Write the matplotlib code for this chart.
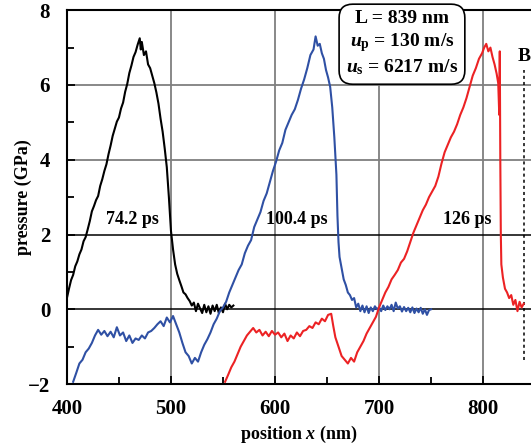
import matplotlib
matplotlib.use('Agg')
import matplotlib.pyplot as plt

plt.rcParams['font.family'] = ['Liberation Serif', 'DejaVu Serif']
plt.rcParams['font.weight'] = 'bold'
plt.rcParams['mathtext.fontset'] = 'custom'
plt.rcParams['mathtext.rm'] = 'Liberation Serif:bold'
plt.rcParams['mathtext.it'] = 'Liberation Serif:bold:italic'
plt.rcParams['mathtext.bf'] = 'Liberation Serif:bold'

# 74.2 ps profile
x_black = [400, 402, 404, 406, 408, 410, 412, 414, 416, 418, 420, 422, 424, 426, 428,
           430, 432, 434, 436, 438, 440, 442, 444, 446, 448, 450, 452, 454, 456, 458,
           460, 462, 464, 466, 468, 470, 471, 472, 474, 476, 478, 480, 482, 484, 486,
           488, 490, 492, 494, 496, 498, 500, 502, 504, 506, 508, 510, 512, 514, 516,
           518, 520, 522, 524, 526, 528, 530, 532, 534, 536, 538, 540, 542, 544, 546,
           548, 550, 552, 554, 556, 558, 560]
p_black = [0.30, 0.55, 0.78, 0.92, 1.15, 1.28, 1.47, 1.60, 1.82, 1.93, 2.14, 2.36, 2.62, 2.76, 2.92,
           3.03, 3.30, 3.48, 3.70, 3.88, 4.15, 4.38, 4.64, 4.83, 5.02, 5.13, 5.37, 5.53, 5.82, 6.03,
           6.32, 6.52, 6.75, 6.88, 7.08, 7.25, 6.95, 7.15, 6.80, 6.90, 6.55, 6.45, 6.25, 6.05, 5.80,
           5.50, 5.10, 4.75, 4.30, 3.80, 3.00, 2.10, 1.60, 1.20, 0.95, 0.78, 0.62, 0.45, 0.40, 0.30,
           0.22, 0.10, 0.18, -0.05, 0.15, 0.02, -0.10, 0.12, -0.08, 0.08, -0.12, 0.10, -0.05, 0.12, -0.10,
           0.05, -0.08, 0.15, 0.00, 0.12, 0.05, 0.10]

# 100.4 ps profile
x_blue = [406, 409, 412, 415, 418, 421, 424, 427, 430, 433, 436, 439, 442, 445, 448,
          451, 454, 457, 460, 463, 466, 469, 472, 475, 478, 481, 484, 487, 490, 493,
          496, 499, 502, 505, 508, 511, 514, 517, 520, 523, 526, 529, 532, 535, 538,
          541, 544, 547, 550, 553, 556, 559, 562, 565, 568, 571, 574, 577, 580, 583,
          586, 589, 592, 595, 598, 601, 604, 607, 610, 613, 616, 619, 622, 625, 628,
          631, 634, 637, 639, 641, 643, 645, 647, 649, 651, 653, 655, 657, 659, 660,
          661, 662, 664, 666, 668, 670, 672, 674, 676, 678, 680, 682, 684, 686, 688,
          690, 692, 694, 696, 698, 700, 702, 704, 706, 708, 710, 712, 714, 716, 718,
          720, 722, 724, 726, 728, 730, 732, 734, 736, 738, 740, 742, 744, 746, 748, 750]
p_blue = [-1.94, -1.70, -1.45, -1.35, -1.15, -1.05, -0.90, -0.70, -0.55, -0.68, -0.58, -0.72, -0.60, -0.75, -0.48,
          -0.70, -0.62, -0.85, -0.70, -0.90, -0.78, -0.82, -0.70, -0.78, -0.62, -0.58, -0.50, -0.40, -0.32, -0.45,
          -0.22, -0.35, -0.18, -0.40, -0.62, -0.90, -1.15, -1.25, -1.45, -1.30, -1.40, -1.15, -0.95, -0.80, -0.62,
          -0.40, -0.25, -0.05, 0.05, 0.20, 0.45, 0.65, 0.85, 1.05, 1.20, 1.50, 1.70, 1.85, 2.20, 2.40,
          2.60, 2.90, 3.10, 3.40, 3.70, 3.95, 4.25, 4.45, 4.80, 5.00, 5.20, 5.35, 5.60, 5.90, 6.15,
          6.45, 6.80, 6.95, 7.30, 7.05, 7.10, 6.85, 6.70, 6.40, 6.20, 5.95, 5.40, 4.60, 3.60, 2.50,
          1.80, 1.40, 1.10, 0.80, 0.65, 0.45, 0.38, 0.25, 0.30, 0.05, 0.15, -0.05, 0.10, -0.08, 0.08,
          -0.10, 0.05, -0.05, 0.08, 0.00, 0.05, -0.05, 0.10, -0.02, 0.08, 0.00, 0.12, -0.05, 0.18, 0.02,
          0.08, -0.06, 0.06, -0.05, 0.04, -0.08, 0.05, -0.10, 0.02, -0.08, 0.04, -0.12, 0.00, -0.15, -0.02, 0.00]

# 126 ps profile
x_red = [552, 555, 558, 561, 564, 567, 570, 573, 576, 579, 582, 585, 588, 591, 594,
         597, 600, 603, 606, 609, 612, 615, 618, 621, 624, 627, 630, 633, 636, 639,
         642, 645, 648, 651, 654, 656, 658, 661, 664, 667, 670, 673, 676, 679, 682,
         685, 688, 691, 694, 697, 700, 703, 706, 709, 712, 715, 718, 721, 724, 727,
         730, 733, 736, 739, 742, 745, 748, 751, 754, 757, 760, 763, 766, 769, 772,
         775, 778, 781, 784, 787, 790, 793, 796, 799, 801, 803, 805, 807, 809, 811,
         813, 814.5, 815.5, 816, 816.5, 817, 817.5, 819, 821, 823, 825, 827, 829, 831, 833,
         835, 837, 839]
p_red = [-1.94, -1.75, -1.55, -1.40, -1.20, -1.00, -0.85, -0.70, -0.60, -0.50, -0.62, -0.55, -0.70, -0.60, -0.72,
         -0.58, -0.68, -0.62, -0.75, -0.65, -0.85, -0.70, -0.78, -0.62, -0.72, -0.58, -0.55, -0.45, -0.50, -0.35,
         -0.40, -0.25, -0.32, -0.15, -0.12, -0.45, -0.75, -1.00, -1.25, -1.35, -1.45, -1.30, -1.40, -1.15, -1.00,
         -0.85, -0.65, -0.50, -0.35, -0.20, 0.05, 0.25, 0.45, 0.60, 0.80, 0.92, 1.05, 1.25, 1.35, 1.55,
         1.80, 2.05, 2.25, 2.45, 2.65, 2.80, 3.00, 3.15, 3.30, 3.55, 3.90, 4.20, 4.40, 4.60, 4.75,
         4.95, 5.20, 5.40, 5.65, 5.95, 6.25, 6.45, 6.70, 6.85, 7.00, 7.10, 6.90, 7.00, 6.75, 6.55,
         6.30, 6.05, 5.20, 6.90, 4.00, 2.00, 1.20, 0.85, 0.55, 0.45, 0.30, 0.38, 0.12, 0.25, -0.05,
         0.20, 0.05, 0.15]

labels = ['74.2 ps', '100.4 ps', '126 ps']
label_x = [463, 621, 785]
colors = ['black', '#2f50a4', '#ec2224']

x_major = [400, 500, 600, 700, 800]
x_minor = [450, 550, 650, 750]
y_major = [-2, 0, 2, 4, 6, 8]
y_minor = [-1, 1, 3, 5, 7]

fig = plt.figure(figsize=(5.31, 4.44), dpi=100)
ax = fig.add_axes([0.126, 0.135, 0.874, 0.842])
ax.set_xlim(400, 846)
ax.set_ylim(-2, 8)

# grid: vertical gray, horizontal 4/6 gray, 0/2 black
for xv in x_major[1:]:
    ax.axvline(xv, color='#7f7f7f', lw=1.3, zorder=1)
for yv in [4, 6]:
    ax.axhline(yv, color='#7f7f7f', lw=1.3, zorder=1)
for yv in [0, 2]:
    ax.axhline(yv, color='black', lw=1.1, zorder=1)

ax.plot(x_black, p_black, color=colors[0], lw=1.5, zorder=3)
ax.plot(x_blue, p_blue, color=colors[1], lw=1.5, zorder=3)
ax.plot(x_red, p_red, color=colors[2], lw=1.5, zorder=3)

for lab, lx in zip(labels, label_x):
    ax.text(lx, 2.4, lab, ha='center', va='center', fontsize=13,
            fontweight='bold', zorder=4)

# rear surface marker
ax.plot([839, 839], [-1.35, 6.4], color='black', ls=(0, (2, 2)), lw=1.1, zorder=2)
ax.text(833.5, 6.75, 'B', ha='left', va='center', fontsize=14,
        fontweight='bold', clip_on=False)

ax.text(722, 7.1, 'L = 839 nm\n$u_\\mathrm{p}$ = 130 m/s\n$u_\\mathrm{s}$ = 6217 m/s',
        ha='center', va='center', fontsize=14, fontweight='bold', linespacing=1.25,
        zorder=5, clip_on=False,
        bbox=dict(boxstyle='round,pad=0.35,rounding_size=0.7', fc='white',
                  ec='black', lw=1.2))

ax.set_xticks(x_major)
ax.set_xticks(x_minor, minor=True)
ax.set_yticks(y_major)
ax.set_yticks(y_minor, minor=True)
ax.tick_params(which='both', direction='in', labelsize=15, width=1.3)
ax.tick_params(which='major', length=6)
ax.tick_params(which='minor', length=5)
ax.tick_params(axis='x', pad=11)
ax.tick_params(axis='y', pad=12)
for t in ax.get_xticklabels() + ax.get_yticklabels():
    t.set_fontweight('bold')

ax.spines['right'].set_visible(False)
for s in ['left', 'bottom', 'top']:
    ax.spines[s].set_linewidth(1.5)

ax.set_xlabel('position $x$ (nm)', fontsize=13, fontweight='bold', labelpad=3)
ax.set_ylabel('pressure (GPa)', fontsize=13, fontweight='bold')
ax.yaxis.set_label_coords(-0.075, 0.5)

fig.savefig('out.png', dpi=100)
